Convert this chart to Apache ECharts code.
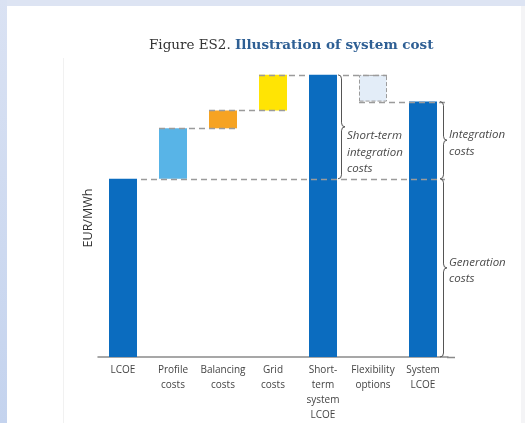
<!DOCTYPE html>
<html><head><meta charset="utf-8">
<script src="https://cdn.jsdelivr.net/npm/echarts@6/dist/echarts.min.js"></script>
<style>
html,body{margin:0;padding:0;width:525px;height:423px;overflow:hidden;background:#fff;}
#topband{position:absolute;left:0;top:0;width:525px;height:6px;background:#dde4f3;}
#leftband{position:absolute;left:0;top:0;width:7px;height:423px;background:linear-gradient(#dae2f3,#c4d3ee);}
#rightband{position:absolute;left:521px;top:6px;width:4px;height:417px;background:#f4f4f6;}
#frame{position:absolute;left:63px;top:58px;width:1px;height:365px;background:#f1f1f1;}
#chart{position:absolute;left:0;top:0;width:525px;height:423px;}
</style></head>
<body>
<div id="topband"></div><div id="leftband"></div><div id="rightband"></div><div id="frame"></div>
<div id="chart"></div>
<script>
// ---- data ----
const categories = ['LCOE','Profile\ncosts','Balancing\ncosts','Grid\ncosts','Short-\nterm\nsystem\nLCOE','Flexibility\noptions','System\nLCOE'];
const baseValues = [0, 60, 77, 83, 0, 86, 0];
const barValues  = [60, 17, 6, 12, 95, 9, 86];
const barColors  = ['#0b6cbf','#58b4e7','#f6a322','#ffe404','#0b6cbf','#e3edf8','#0b6cbf'];
const yAxisName = 'EUR/MWh';
const titleNormal = 'Figure ES2. ';
const titleBold = 'Illustration of system cost';
const braceLabels = ['Short-term\nintegration\ncosts', 'Integration\ncosts', 'Generation\ncosts'];

const BAR_W = 28;
const chart = echarts.init(document.getElementById('chart'), null, {renderer:'canvas'});

const valueData = barValues.map((v, i) => {
  const d = {value: v, itemStyle: {color: barColors[i]}};
  if (i === 5) { d.itemStyle.borderColor = '#9c9c9c'; d.itemStyle.borderType = 'dashed'; d.itemStyle.borderWidth = 1; }
  return d;
});

chart.setOption({
  animation: false,
  backgroundColor: 'transparent',
  title: {
    left: 144, top: 33,
    text: '{a|' + titleNormal + '}{b|' + titleBold + '}',
    textStyle: {
      rich: {
        a: {fontFamily: 'DejaVu Serif', fontSize: 13.5, fontWeight: 'normal', color: '#333'},
        b: {fontFamily: 'DejaVu Serif', fontSize: 13.5, fontWeight: 'bold', color: '#2e5f94'}
      }
    }
  },
  grid: {left: 98, right: 77, top: 60, bottom: 66, containLabel: false},
  xAxis: {
    type: 'category', data: categories,
    axisLine: {lineStyle: {color: '#8a8a8a', width: 1.5}},
    axisTick: {show: false},
    axisLabel: {interval: 0, margin: 6, fontFamily: 'Open Sans', fontSize: 10, lineHeight: 15, color: '#444', align: 'center', verticalAlign: 'top'}
  },
  yAxis: {type: 'value', min: 0, max: 100, show: false},
  series: [
    {type: 'bar', stack: 'w', barWidth: BAR_W, data: baseValues, itemStyle: {color: 'transparent'}, silent: true},
    {type: 'bar', stack: 'w', barWidth: BAR_W, data: valueData}
  ]
});

function px(i, v) { return chart.convertToPixel({xAxisIndex: 0, yAxisIndex: 0}, [i, v]); }
function left(i) { return px(i, 0)[0] - BAR_W / 2; }
function right(i) { return px(i, 0)[0] + BAR_W / 2; }
function yv(v) { return px(0, v)[1]; }

const lvlLCOE = barValues[0];
const lvlProfile = baseValues[1] + barValues[1];
const lvlBal = baseValues[2] + barValues[2];
const lvlGrid = baseValues[3] + barValues[3];
const lvlShort = barValues[4];
const lvlSystem = barValues[6];

const segs = [
  [lvlLCOE, right(0) + 4, right(6) + 8],
  [lvlProfile, left(1), right(2)],
  [lvlBal, left(2), right(3)],
  [lvlGrid, left(3), left(4)],
  [lvlShort, right(4) + 6, right(5)],
  [lvlSystem, left(5), right(6) + 8]
];

const graphics = [];
// axis line extension toward the braces
const yBase = Math.round(yv(0)) + 0.5;
graphics.push({type: 'line', z: 90, shape: {x1: right(6) + 10, y1: yBase, x2: right(6) + 18, y2: yBase},
  style: {stroke: '#8a8a8a', lineWidth: 1.5}});
segs.forEach(s => {
  const y = Math.round(yv(s[0])) + 0.5;
  graphics.push({type: 'line', z: 100, shape: {x1: s[1], y1: y, x2: s[2], y2: y},
    style: {stroke: '#9b9b9b', lineWidth: 1.5, lineDash: [6, 4]}});
});

const braceStyle = {fill: null, stroke: '#555', lineWidth: 1};
function addBrace(x, yTop, yBot, w) {
  const mid = (yTop + yBot) / 2, r = 4, xc = x + w;
  const parts = [
    {type: 'bezierCurve', shape: {x1: x, y1: yTop, x2: xc, y2: yTop + r, cpx1: xc, cpy1: yTop}},
    {type: 'line', shape: {x1: xc, y1: yTop + r, x2: xc, y2: mid - r}},
    {type: 'bezierCurve', shape: {x1: xc, y1: mid - r, x2: xc + w, y2: mid, cpx1: xc, cpy1: mid}},
    {type: 'bezierCurve', shape: {x1: xc + w, y1: mid, x2: xc, y2: mid + r, cpx1: xc, cpy1: mid}},
    {type: 'line', shape: {x1: xc, y1: mid + r, x2: xc, y2: yBot - r}},
    {type: 'bezierCurve', shape: {x1: xc, y1: yBot - r, x2: x, y2: yBot, cpx1: xc, cpy1: yBot}}
  ];
  parts.forEach(p => { p.z = 100; p.style = braceStyle; graphics.push(p); });
}
const braces = [
  [right(4) + 1, yv(lvlShort), yv(lvlLCOE), braceLabels[0], 'top'],
  [right(6) + 3, yv(lvlSystem), yv(lvlLCOE), braceLabels[1], 'middle'],
  [right(6) + 3, yv(lvlLCOE), yv(0), braceLabels[2], 'middle']
];
braces.forEach(b => {
  addBrace(b[0], b[1], b[2], 3.5);
  const mid = (b[1] + b[2]) / 2;
  graphics.push({type: 'text', z: 100, x: b[0] + 9, y: b[4] === 'top' ? mid + 1 : mid + 3,
    style: {text: b[3], fontFamily: 'Open Sans', fontStyle: 'italic', fontSize: 11.5, lineHeight: 16.5,
      fill: '#4a4a4a', align: 'left', verticalAlign: b[4]}});
});
graphics.push({type: 'text', x: 88, y: 218, rotation: Math.PI / 2,
  style: {text: yAxisName, fontFamily: 'Open Sans', fontSize: 12.5, fill: '#333', align: 'center', verticalAlign: 'middle'}});

chart.setOption({graphic: graphics});
</script>
</body></html>
